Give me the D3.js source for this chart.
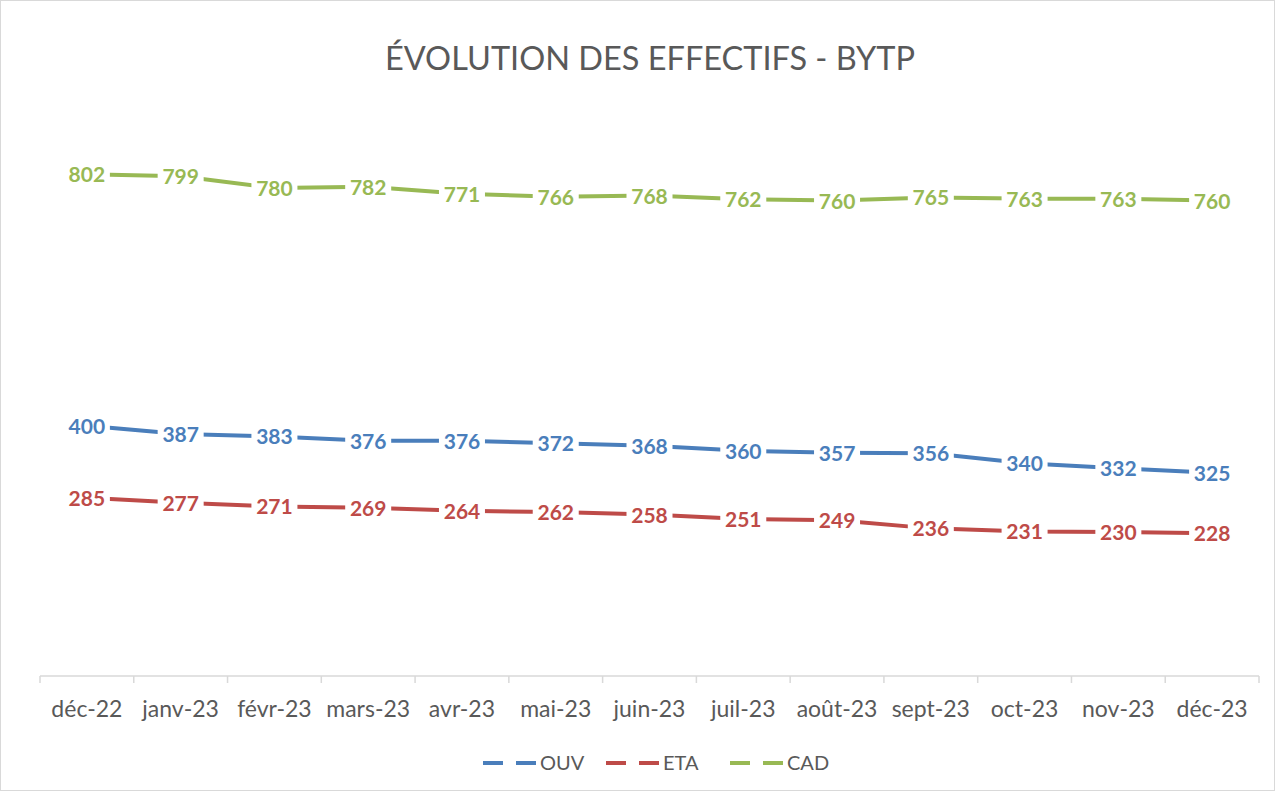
<!DOCTYPE html>
<html>
<head>
<meta charset="utf-8">
<script src="https://cdn.jsdelivr.net/npm/d3@7"></script>
<style>
	body { margin: 0; background: #fff; }
	svg { display: block; font-family: Lato, 'Open Sans', sans-serif; }
</style>
</head>
<body>
<div id="chart"></div>
<script>
var months = ['déc-22', 'janv-23', 'févr-23', 'mars-23', 'avr-23', 'mai-23', 'juin-23',
	'juil-23', 'août-23', 'sept-23', 'oct-23', 'nov-23', 'déc-23'];
var ouv = [400, 387, 383, 376, 376, 372, 368, 360, 357, 356, 340, 332, 325];
var eta = [285, 277, 271, 269, 264, 262, 258, 251, 249, 236, 231, 230, 228];
var cad = [802, 799, 780, 782, 771, 766, 768, 762, 760, 765, 763, 763, 760];
var seriesNames = ['OUV', 'ETA', 'CAD'];
var seriesColors = ['#4a7ebb', '#be4b48', '#98b954'];

var series = [ouv, eta, cad].map(function(values, i) {
	return { name: seriesNames[i], color: seriesColors[i], values: values };
});

var width = 1275, height = 791;

var svg = d3.select('#chart')
	.append('svg')
	.attr('width', width)
	.attr('height', height);

// outer border
svg.append('rect')
	.attr('x', 0.5).attr('y', 0.5)
	.attr('width', width - 1).attr('height', height - 1)
	.attr('fill', '#fff')
	.attr('stroke', '#d9d9d9');

// title
svg.append('text')
	.attr('x', 650)
	.attr('y', 70)
	.attr('text-anchor', 'middle')
	.attr('fill', '#595959')
	.style('font-size', '32.5px')
	.text('ÉVOLUTION DES EFFECTIFS - BYTP');

var x = d3.scaleBand()
	.domain(months)
	.range([40, 1259]);

var y = d3.scaleLinear()
	.domain([0, 900])
	.range([676, 113]);

// category axis, ticks between categories
var axisG = svg.append('g');
axisG.append('line')
	.attr('x1', x.range()[0]).attr('x2', x.range()[1])
	.attr('y1', y(0)).attr('y2', y(0))
	.attr('stroke', '#d9d9d9')
	.attr('stroke-width', 1.5);

var boundaries = months.map(function(m) { return x(m); }).concat([x.range()[1]]);
axisG.selectAll('line.tick')
	.data(boundaries)
	.enter()
	.append('line')
	.attr('class', 'tick')
	.attr('x1', function(d) { return d; })
	.attr('x2', function(d) { return d; })
	.attr('y1', y(0))
	.attr('y2', y(0) + 7)
	.attr('stroke', '#d9d9d9')
	.attr('stroke-width', 1.5);

axisG.selectAll('text')
	.data(months)
	.enter()
	.append('text')
	.attr('x', function(d) { return x(d) + x.bandwidth() / 2; })
	.attr('y', 717)
	.attr('text-anchor', 'middle')
	.attr('fill', '#595959')
	.style('font-size', '23px')
	.text(function(d) { return d; });

var line = d3.line()
	.x(function(d, i) { return x(months[i]) + x.bandwidth() / 2; })
	.y(function(d) { return y(d); });

var seriesG = svg.selectAll('g.series')
	.data(series)
	.enter()
	.append('g')
	.attr('class', 'series');

seriesG.append('path')
	.attr('d', function(s) { return line(s.values); })
	.attr('fill', 'none')
	.attr('stroke', function(s) { return s.color; })
	.attr('stroke-width', 4)
	.attr('stroke-linejoin', 'round');

// data labels with white fill, centred on points
var labels = seriesG.selectAll('g.label')
	.data(function(s) { return s.values.map(function(v, i) { return { v: v, i: i, color: s.color }; }); })
	.enter()
	.append('g')
	.attr('class', 'label')
	.attr('transform', function(d) {
		return 'translate(' + (x(months[d.i]) + x.bandwidth() / 2) + ',' + y(d.v) + ')';
	});

labels.append('rect')
	.attr('x', -23).attr('y', -13)
	.attr('width', 46).attr('height', 27)
	.attr('fill', '#fff');

labels.append('text')
	.attr('text-anchor', 'middle')
	.attr('dy', '0.38em')
	.attr('fill', function(d) { return d.color; })
	.style('font-size', '21px')
	.style('font-weight', 'bold')
	.text(function(d) { return d.v; });

// legend
var legendX = [483, 606, 730];
var legend = svg.selectAll('g.legend')
	.data(series)
	.enter()
	.append('g')
	.attr('class', 'legend')
	.attr('transform', function(d, i) { return 'translate(' + legendX[i] + ',763)'; });

legend.append('line')
	.attr('x1', 0).attr('x2', 54)
	.attr('stroke', function(d) { return d.color; })
	.attr('stroke-width', 4)
	.attr('stroke-dasharray', '20,13');

legend.append('text')
	.attr('x', 57)
	.attr('dy', '0.36em')
	.attr('fill', '#595959')
	.style('font-size', '20px')
	.text(function(d) { return d.name; });
</script>
</body>
</html>
